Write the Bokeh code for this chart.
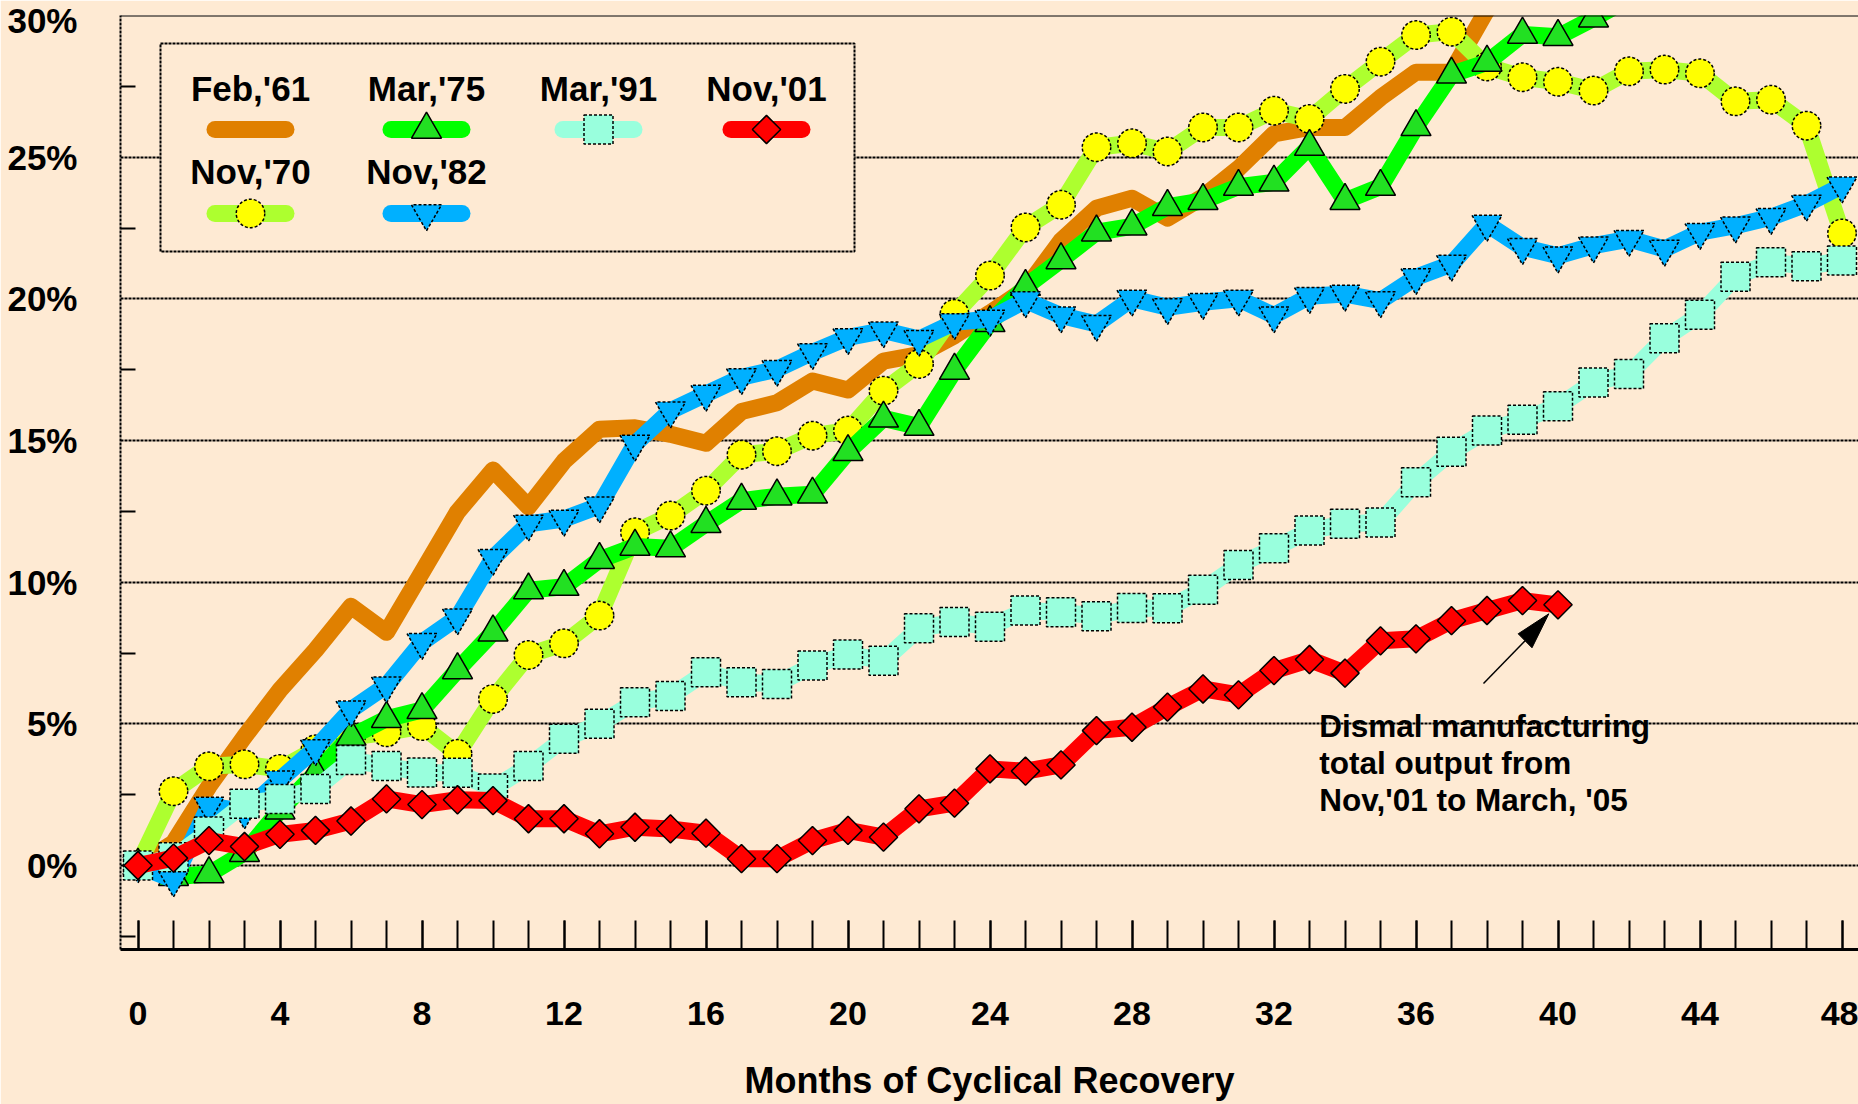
import math
from bokeh.plotting import figure
from bokeh.models import Range1d, FixedTicker, PrintfTickFormatter, Span
from bokeh.core.properties import value
from bokeh.embed import file_html
from bokeh.resources import INLINE

# ---------------- data ----------------
months = list(range(49))

feb61 = [0, 0.8, 2.8, 4.55, 6.2, 7.6, 9.15, 8.23, 10.35, 12.48, 13.96, 12.66, 14.27,
         15.4, 15.45, 15.22, 14.9, 16.02, 16.33, 17.1, 16.78, 17.8, 18.03, 18.7, 19.5,
         20.35, 22.05, 23.2, 23.55, 22.85, 23.6, 24.6, 25.82, 26.05, 26.05, 27.1, 28.0,
         28.0, 30.2, 31.0]

nov70 = [0, 2.62, 3.5, 3.57, 3.41, 4.1, 4.53, 4.7, 4.92, 3.94, 5.88, 7.43, 7.84,
         8.82, 11.76, 12.35, 13.23, 14.5, 14.62, 15.17, 15.35, 16.76, 17.7, 19.47, 20.82,
         22.52, 23.32, 25.35, 25.49, 25.2, 26.05, 26.05, 26.64, 26.35, 27.41, 28.37, 29.31,
         29.43, 28.2, 27.82, 27.66, 27.35, 28.03, 28.09, 27.96, 26.97, 27.03, 26.11, 22.31]

mar75 = [0, -0.4, -0.3, 0.45, 1.95, 3.25, 4.55, 5.18, 5.49, 6.9, 8.23, 9.72, 9.84,
         10.79, 11.26, 11.2, 12.06, 12.88, 13.03, 13.1, 14.6, 15.78, 15.49, 17.47, 19.15,
         20.43, 21.37, 22.35, 22.56, 23.25, 23.46, 23.96, 24.11, 25.37, 23.46, 23.96, 26.07,
         27.92, 28.34, 29.33, 29.25, 29.9, 30.6]

nov82 = [0, -0.5, 2.1, 1.9, 3.03, 4.13, 5.5, 6.35, 7.88, 8.75, 10.85, 12.06, 12.23,
         12.7, 14.88, 16.05, 16.64, 17.23, 17.52, 18.11, 18.64, 18.88, 18.58, 19.17, 19.29,
         19.94, 19.41, 19.11, 20.0, 19.7, 19.88, 20.0, 19.41, 20.09, 20.17, 19.94, 20.76,
         21.23, 22.64, 21.82, 21.52, 21.88, 22.11, 21.76, 22.35, 22.58, 22.88, 23.35, 23.99]

mar91 = [0, 0.29, 1.2, 2.18, 2.35, 2.7, 3.72, 3.51, 3.28, 3.27, 2.72, 3.51, 4.47,
         5.0, 5.76, 5.98, 6.82, 6.47, 6.41, 7.06, 7.45, 7.23, 8.37, 8.59, 8.43,
         9.0, 8.94, 8.8, 9.09, 9.08, 9.73, 10.61, 11.2, 11.82, 12.06, 12.11, 13.53,
         14.6, 15.35, 15.73, 16.21, 17.05, 17.35, 18.61, 19.44, 20.78, 21.29, 21.15, 21.35]

nov01 = [0, 0.26, 0.88, 0.67, 1.1, 1.24, 1.57, 2.35, 2.15, 2.32, 2.29, 1.65, 1.65,
         1.12, 1.35, 1.29, 1.14, 0.24, 0.24, 0.88, 1.24, 1.0, 2.0, 2.2, 3.41,
         3.33, 3.55, 4.76, 4.88, 5.59, 6.23, 6.02, 6.88, 7.27, 6.79, 7.93, 8.0,
         8.64, 9.0, 9.35, 9.2]

series_names = ["Feb,'61", "Nov,'70", "Mar,'75", "Nov,'82", "Mar,'91", "Nov,'01"]
series_values = [feb61, nov70, mar75, nov82, mar91, nov01]

x_ticks = list(range(0, 49, 4))
y_ticks = [0, 5, 10, 15, 20, 25, 30]
y_minor_ticks = [-2.5, 2.5, 7.5, 12.5, 17.5, 22.5, 27.5]
x_axis_title = "Months of Cyclical Recovery"
note_lines = ["Dismal  manufacturing", "total output from", "Nov,'01 to March, '05"]

# ---------------- styles ----------------
BG = "#FEEAD3"
FONT = "Liberation Sans"
LINE_W = 17
styles = [
    dict(line="#E08000", marker=None),
    dict(line="#ADFF2F", marker="circle", fill="#FFFF00", size=28.5, dash="3 2", angle=0.0),
    dict(line="#00FF00", marker="triangle", fill="#22E022", size=30, dash="solid", angle=0.0),
    dict(line="#00B0FF", marker="inverted_triangle", fill="#00B0FF", size=30, dash="3 2", angle=0.0),
    dict(line="#99FFDD", marker="square", fill="#99FFDD", size=29, dash="3 2", angle=0.0),
    dict(line="#FF0000", marker="square", fill="#FF0000", size=20, dash="solid", angle=math.pi / 4),
]

# pixel geometry of the plot frame (canvas fills the window)
W, H = 1858, 1104
FRAME_L, FRAME_T, FRAME_B = 120, 15, 949
X0_PX, PX_PER_MONTH = 137.5, 35.5
Y0_PX, PX_PER_PCT = 865.0, 850.0 / 30.0


def xd(px):
    return (px - X0_PX) / PX_PER_MONTH


def yd(py):
    return (Y0_PX - py) / PX_PER_PCT


p = figure(width=W, height=H,
           x_range=Range1d(xd(FRAME_L), xd(W)), y_range=Range1d(yd(FRAME_B), yd(FRAME_T)),
           output_backend="svg", toolbar_location=None,
           min_border_left=FRAME_L, min_border_right=0, min_border_top=FRAME_T,
           min_border_bottom=H - FRAME_B,
           background_fill_color=BG, border_fill_color=BG, outline_line_color=None)

# x axis
xa = p.xaxis[0]
xa.ticker = FixedTicker(ticks=x_ticks, minor_ticks=months)
xa.major_tick_in = 29
xa.major_tick_out = 0
xa.minor_tick_in = 29
xa.minor_tick_out = 0
xa.major_tick_line_width = 2
xa.minor_tick_line_width = 2
xa.major_tick_line_color = "black"
xa.minor_tick_line_color = "black"
xa.axis_line_width = 3
xa.axis_line_color = "black"
xa.major_label_text_font = FONT
xa.major_label_text_font_style = "bold"
xa.major_label_text_font_size = "34px"
xa.major_label_text_color = "black"
xa.major_label_text_line_height = 1.0
xa.major_label_standoff = 52
xa.axis_label = x_axis_title
xa.axis_label_text_font = FONT
xa.axis_label_text_font_style = "bold"
xa.axis_label_text_font_size = "36px"
xa.axis_label_text_color = "black"
xa.axis_label_text_line_height = 1.0
xa.axis_label_standoff = 32

# y axis
ya = p.yaxis[0]
ya.ticker = FixedTicker(ticks=y_ticks, minor_ticks=y_minor_ticks)
ya.formatter = PrintfTickFormatter(format="%d%%")
ya.major_tick_in = 0
ya.major_tick_out = 0
ya.minor_tick_in = 15
ya.minor_tick_out = 0
ya.minor_tick_line_width = 2
ya.minor_tick_line_color = "black"
ya.axis_line_width = 2
ya.axis_line_dash = "3 1"
ya.axis_line_color = "black"
ya.major_label_text_font = FONT
ya.major_label_text_font_style = "bold"
ya.major_label_text_font_size = "35px"
ya.major_label_text_color = "black"
ya.major_label_standoff = 43

p.xgrid.visible = False
p.ygrid.ticker = FixedTicker(ticks=y_ticks[:-1])
p.ygrid.grid_line_color = "black"
p.ygrid.grid_line_width = 1.8
p.ygrid.grid_line_dash = "3 1"

p.add_layout(Span(location=y_ticks[-1], dimension="width", line_color="black", line_width=2))

# ---------------- series ----------------
for vals, st in zip(series_values, styles):
    xs = months[:len(vals)]
    p.line(xs, vals, line_color=st["line"], line_width=LINE_W, line_join="round", line_cap="round")
    if st["marker"]:
        p.scatter(xs, vals, marker=st["marker"], size=st["size"], angle=st["angle"],
                  fill_color=st["fill"], line_color="black", line_width=1.5,
                  line_dash=value(st["dash"]))

# ---------------- legend ----------------
p.quad(left=xd(160), right=xd(854), top=yd(43), bottom=yd(251), fill_color=BG,
       line_color="black", line_width=2, line_dash=value("3 1"))
legend_slots = [(0, 0), (0, 1), (1, 0), (1, 1), (2, 0), (3, 0)]
col_px = [250, 426, 598, 766]
label_mid_px = [88, 171]
sample_px = [129, 213]
half = 35.5
lx, ly, lt = [], [], []
for name, st, (c, r) in zip(series_names, styles, legend_slots):
    cx = col_px[c]
    sy = yd(sample_px[r])
    p.line([xd(cx - half), xd(cx + half)], [sy, sy], line_color=st["line"], line_width=LINE_W,
           line_cap="round")
    if st["marker"]:
        p.scatter([xd(cx)], [sy], marker=st["marker"], size=st["size"], angle=st["angle"],
                  fill_color=st["fill"], line_color="black", line_width=1.5,
                  line_dash=value(st["dash"]))
    lx.append(xd(cx))
    ly.append(yd(label_mid_px[r]))
    lt.append(name)
p.text(x=lx, y=ly, text=lt, text_font=value(FONT), text_font_style="bold",
       text_font_size=value("35px"), text_align="center", text_baseline="middle",
       text_color="black")

# ---------------- annotation ----------------
note_mid_px = [725, 762, 799.5]
p.text(x=[xd(1318.8)] * len(note_lines), y=[yd(b) for b in note_mid_px], text=note_lines,
       text_font=value(FONT), text_font_style="bold", text_font_size=value("31.5px"),
       text_align="left", text_baseline="middle", text_color="black")
p.line([xd(1483), xd(1524.6)], [yd(683), yd(640.3)], line_color="black", line_width=1.5)
p.patch([xd(1548.3), xd(1517.7), xd(1531.5)], [yd(613.3), yd(633.3), yd(647.3)],
        fill_color="black", line_color="black", line_width=1)

open("out.html", "w").write(file_html(p, INLINE))
